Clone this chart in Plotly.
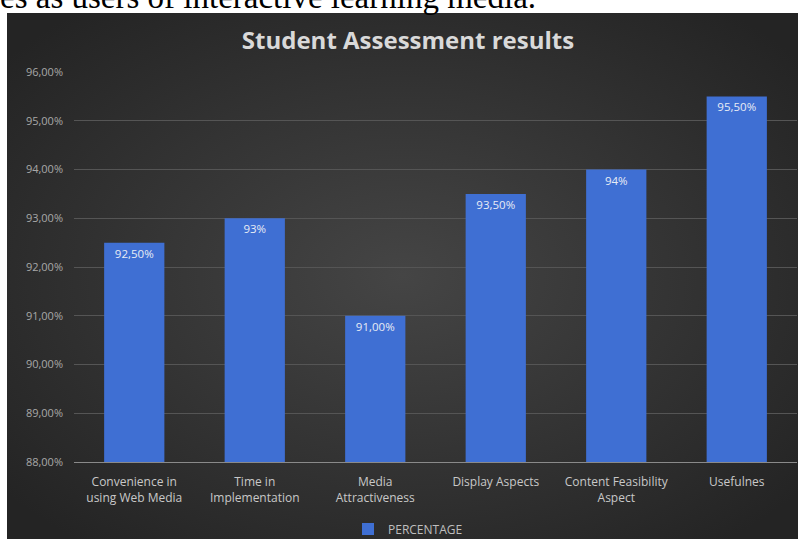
import base64
import plotly.graph_objects as go

categories = ["Convenience in<br>using Web Media", "Time in<br>Implementation", "Media<br>Attractiveness",
              "Display Aspects", "Content Feasibility<br>Aspect", "Usefulnes"]
values = [92.5, 93.0, 91.0, 93.5, 94.0, 95.5]
labels = ["92,50%", "93%", "91,00%", "93,50%", "94%", "95,50%"]
tick_vals = [88, 89, 90, 91, 92, 93, 94, 95, 96]
tick_text = ["88,00%", "89,00%", "90,00%", "91,00%", "92,00%", "93,00%", "94,00%", "95,00%", "96,00%"]

W, H = 798, 539
ML, MR, MT, MB = 74, 1, 72, 77
PW, PH = W - ML - MR, H - MT - MB
FONT = "Open Sans"


def px_x(px):
    return (px - ML) / PW


def px_y(py):
    return (H - MB - py) / PH


svg = ('<svg xmlns="http://www.w3.org/2000/svg" width="800" height="530" preserveAspectRatio="none">'
       '<defs><radialGradient id="g" cx="50%" cy="50%" r="65%">'
       '<stop offset="0%" stop-color="#454545"/><stop offset="100%" stop-color="#242424"/>'
       '</radialGradient></defs><rect width="800" height="530" fill="url(#g)"/></svg>')
src = "data:image/svg+xml;base64," + base64.b64encode(svg.encode()).decode()

fig = go.Figure()
fig.add_trace(go.Bar(
    x=categories, y=values, name="PERCENTAGE",
    marker=dict(color="#3f6fd3", line=dict(width=0)),
    text=labels, textposition="inside", insidetextanchor="end",
    textfont=dict(family=FONT, size=11.5, color="#e8ecf5"),
    cliponaxis=False,
))

fig.add_layout_image(dict(
    source=src, xref="paper", yref="paper",
    x=px_x(7), y=px_y(13), sizex=px_x(798) - px_x(7), sizey=px_y(13) - px_y(539),
    xanchor="left", yanchor="top", sizing="stretch", layer="below",
))

fig.add_annotation(
    text="es as users of interactive learning media.",
    xref="paper", yref="paper", x=px_x(-2), y=px_y(-3),
    xanchor="left", yanchor="middle", showarrow=False,
    font=dict(family="Liberation Serif", size=33, color="#000000"),
)

fig.update_layout(
    width=W, height=H,
    margin=dict(l=ML, r=MR, t=MT, b=MB, pad=0, autoexpand=False),
    paper_bgcolor="#ffffff", plot_bgcolor="rgba(0,0,0,0)",
    bargap=0.5,
    title=dict(text="<b>Student Assessment results</b>", x=408 / W, xref="container",
               y=(H - 41) / H, yref="container", xanchor="center", yanchor="middle",
               font=dict(family=FONT, size=24, color="#d9d9d9")),
    showlegend=True,
    legend=dict(orientation="h", x=px_x(408), y=px_y(529), xanchor="center", yanchor="middle",
                font=dict(family=FONT, size=12, color="#bfbfbf"), bgcolor="rgba(0,0,0,0)",
                itemwidth=30),
    xaxis=dict(showgrid=False, showline=True, linecolor="#8a8a8a", linewidth=1,
               tickfont=dict(family=FONT, size=12, color="#c8c8c8"), ticks="",
               ticklabelstandoff=9),
    yaxis=dict(range=[88, 96], tickvals=tick_vals, ticktext=tick_text,
               showgrid=True, gridcolor="#555555", gridwidth=1, zeroline=False,
               tickfont=dict(family=FONT, size=11, color="#a8a8a8"), ticks="",
               ticklabelstandoff=10),
)

fig.write_html("out.html")
